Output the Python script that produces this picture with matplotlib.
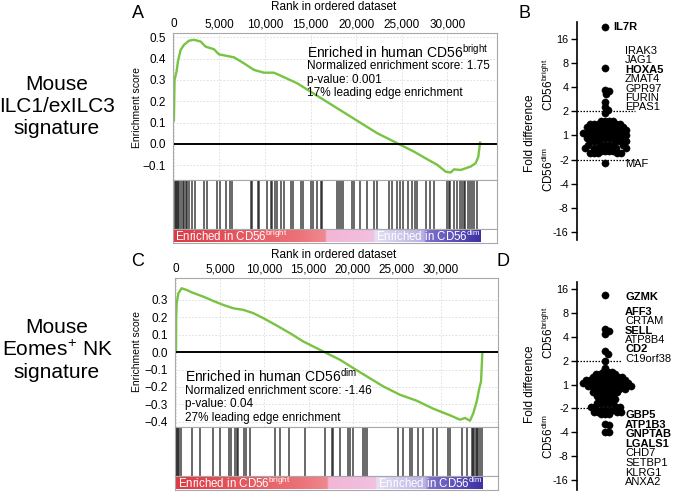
import numpy as np
import matplotlib
matplotlib.use("Agg")
import matplotlib.pyplot as plt
from matplotlib.colors import LinearSegmentedColormap

plt.rcParams['font.family'] = ['Liberation Sans', 'DejaVu Sans']
plt.rcParams['mathtext.default'] = 'regular'

# ---- data ----
rank_ticks = [0, 5000, 10000, 15000, 20000, 25000, 30000]

# panel A: running enrichment score, ILC1/exILC3 signature
rank_a = [0, 70, 290, 440, 730, 1100, 1650, 2200, 2930, 3480, 4390, 4940, 6590, 7680,
          8780, 9880, 10980, 12070, 13540, 15000, 16460, 17930, 19390, 20850, 22320,
          23780, 24880, 26340, 27800, 28900, 29820, 30370, 30730, 31460, 32020, 32560,
          33110, 33400, 33590]
es_a = [0.11, 0.30, 0.34, 0.386, 0.44, 0.464, 0.484, 0.488, 0.48, 0.456, 0.444, 0.42,
        0.406, 0.378, 0.347, 0.334, 0.334, 0.313, 0.284, 0.245, 0.206, 0.167, 0.128,
        0.089, 0.05, 0.019, -0.005, -0.036, -0.072, -0.098, -0.13, -0.134, -0.119,
        -0.122, -0.114, -0.106, -0.09, -0.06, 0.006]
hits_a = [110, 220, 330, 470, 580, 770, 950, 1130, 1280, 1420, 1680, 1930, 2300, 3320,
          3610, 4780, 5070, 5690, 6170, 6420, 8430, 8610, 9230, 9380, 10260, 10620,
          10800, 11060, 11350, 11720, 12080, 12810, 13100, 13900, 14200, 15000, 15290,
          15730, 16090, 16280, 17920, 18100, 18360, 18580, 19560, 19740, 20470, 21200,
          21930, 22230, 23580, 23940, 24490, 24850, 25150, 25660, 26130, 26500, 26680,
          27700, 28140, 28500, 29960, 30150, 30330, 30690, 31060, 31350, 31610, 31790,
          31970, 32230, 32520, 32700, 32920, 33210]

# panel C: running enrichment score, Eomes+ NK signature
rank_c = [0, 20, 75, 265, 640, 1210, 1770, 2340, 3090, 4230, 5360, 6490, 7620, 8750,
          9890, 11400, 12900, 14420, 15920, 17060, 18570, 20080, 21590, 23470, 25360,
          27250, 29130, 31020, 32150, 32720, 33280, 33660, 34040, 34340, 34530, 34680]
es_c = [0, 0.195, 0.28, 0.338, 0.367, 0.357, 0.344, 0.333, 0.319, 0.294, 0.271, 0.252,
        0.243, 0.224, 0.195, 0.153, 0.109, 0.061, 0.023, -0.006, -0.044, -0.092, -0.139,
        -0.197, -0.245, -0.279, -0.325, -0.363, -0.388, -0.378, -0.394, -0.35, -0.283,
        -0.206, -0.168, 0]
hits_c = [0, 150, 260, 380, 530, 1770, 2720, 4230, 4980, 6040, 6190, 6680, 6870, 7060,
          7700, 7920, 8380, 11210, 11770, 12830, 14600, 16870, 17620, 17810, 18570, 19510,
          19700, 20080, 21210, 21400, 21580, 25170, 25740, 26490, 26680, 27430, 28000,
          29130, 29510, 30830, 31020, 32340, 32910, 33470, 33580, 33740, 33960, 34110,
          34230, 34420, 34600]

# panels B / D: fold difference (CD56bright vs CD56dim) per gene
fold_b = [22.8, 6.9, 3.7, 3.6, 3.3, 2.6, 2.25, 2.07, 1.92,
          1.52, 1.52, 1.52, 1.52,
          1.40, 1.40, 1.40, 1.40, 1.40,
          1.28, 1.28, 1.28, 1.28, 1.28, 1.28,
          1.18, 1.18, 1.18, 1.18, 1.18, 1.18,
          1.08, 1.08, 1.08, 1.08, 1.08, 1.08, 1.08,
          1.0, 1.0, 1.0, 1.0, 1.0, 1.0,
          -1.08, -1.08, -1.08, -1.08, -1.08, -1.08,
          -1.18, -1.18, -1.18, -1.18, -1.18, -1.18,
          -1.30, -1.30, -1.30, -1.30, -1.30, -1.30,
          -1.42, -1.42, -1.42, -1.42, -1.42,
          -1.55, -1.55, -1.55, -1.55,
          -1.66, -1.66, -1.66, -1.66, -1.66,
          -2.2]
fold_d = [13.5, 4.96, 4.72, 4.35, 2.68, 2.43, 2.0,
          1.61,
          1.46, 1.46, 1.46,
          1.34, 1.34, 1.34,
          1.23, 1.23, 1.23, 1.23, 1.23,
          1.13, 1.13, 1.13, 1.13, 1.13, 1.13,
          1.04, 1.04, 1.04, 1.04, 1.04, 1.04, 1.04,
          -1.04, -1.04, -1.04, -1.04, -1.04, -1.04, -1.04,
          -1.13, -1.13, -1.13, -1.13, -1.13, -1.13,
          -1.25, -1.25, -1.25, -1.25, -1.25, -1.25,
          -1.39, -1.39, -1.39, -1.39, -1.39,
          -1.54, -1.54, -1.54, -1.54, -1.54,
          -1.72, -1.72, -1.72, -1.72, -1.72,
          -1.89, -1.89, -1.89, -1.89,
          -2.07, -2.07, -2.07, -2.07,
          -2.22, -2.22, -2.22, -2.22,
          -2.38, -2.38, -2.38,
          -3.1, -3.2, -3.9, -4.0]

fold_ticks = [-16, -8, -4, -2, 1, 2, 4, 8, 16]

genes_b_top = ['IRAK3', 'JAG1', 'HOXA5', 'ZMAT4', 'GPR97', 'FURIN', 'EPAS1']
genes_d_top = ['AFF3', 'CRTAM', 'SELL', 'ATP8B4', 'CD2', 'C19orf38']
genes_d_bot = ['GBP5', 'ATP1B3', 'GNPTAB', 'LGALS1', 'CHD7', 'SETBP1', 'KLRG1', 'ANXA2']
bold_genes = {'IL7R', 'HOXA5', 'GZMK', 'AFF3', 'SELL', 'CD2', 'GBP5', 'ATP1B3',
              'GNPTAB', 'LGALS1'}

GREEN = '#78c341'
FRAME = '#a8a8a8'

W, H = 675, 494
fig = plt.figure(figsize=(6.75, 4.94), dpi=100)


def px_axes(l, t, r, b):
    return fig.add_axes([l / W, 1 - b / H, (r - l) / W, (b - t) / H])


def ftext(x, y, s, **kw):
    return fig.text(x / W, 1 - y / H, s, **kw)


bar_cmap = LinearSegmentedColormap.from_list('bar', [
    (0.0, '#de3a44'), (0.40, '#ec7177'), (0.493, '#f08890'), (0.497, '#f3b6d6'),
    (0.65, '#f1c0e0'), (0.656, '#e4e0f4'), (0.815, '#b8b0e4'), (0.823, '#7e72cc'),
    (1.0, '#3d31a6')])


def gsea_panel(l, t, r, b, b2, b3, ranks, es, hits, xlim, ylim, yticks):
    ax = px_axes(l, t, r, b)
    ax.plot(ranks, es, color=GREEN, lw=1.7)
    ax.axhline(0, color='k', lw=1.4)
    ax.set_xlim(xlim)
    ax.set_ylim(ylim)
    ax.xaxis.tick_top()
    ax.set_xticks(rank_ticks)
    ax.set_xticklabels([f'{v:,}' for v in rank_ticks], fontsize=8.5)
    ax.set_yticks(yticks)
    ax.set_yticklabels([f'{v:.1f}'.replace('-', '\u2212') for v in yticks], fontsize=8.5)
    ax.tick_params(axis='x', length=0, pad=2)
    ax.tick_params(axis='y', length=0, pad=5)
    ax.grid(color='#dcdcdc', lw=0.6, ls=(0, (2, 2)))
    for s in ax.spines.values():
        s.set_color(FRAME)

    bc = px_axes(l, b, r, b2)
    bc.vlines(hits, 0, 1, color='#111111', lw=1.1, alpha=0.8)
    bc.set_xlim(xlim)
    bc.set_ylim(0, 1)
    bc.set_xticks([])
    bc.set_yticks([])
    for s in bc.spines.values():
        s.set_color(FRAME)

    cb = px_axes(l, b2, r, b3)
    end = ranks[-1]
    cb.imshow(np.linspace(0, 1, 256)[None, :], cmap=bar_cmap, aspect='auto',
              extent=[0, end, 0.1, 1])
    cb.set_xlim(xlim)
    cb.set_ylim(0, 1)
    cb.set_xticks([])
    cb.set_yticks([])
    for s in cb.spines.values():
        s.set_color(FRAME)
    cb.text(end * 0.005, 0.5, 'Enriched in CD56$^{bright}$', color='white',
            fontsize=8.3, va='center')
    cb.text(end * 0.66, 0.5, 'Enriched in CD56$^{dim}$', color='white',
            fontsize=8.3, va='center')
    return ax


def to_level(f):
    f = np.asarray(f, dtype=float)
    return np.sign(f) * np.log2(np.abs(f))


def swarm(ys, d):
    cands = [0.0]
    for k in range(1, 120):
        cands += [k * 0.5, -k * 0.5]
    placed = []
    xs = []
    for y in ys:
        for c in cands:
            if all((c - px) ** 2 + (y - py) ** 2 >= d * d for px, py in placed):
                break
        placed.append((c, y))
        xs.append(c)
    return np.array(xs)


def scatter_panel(t, b, ylim, ppl, folds, dash_len):
    ax = px_axes(577, t, 675, b)
    lv = to_level(folds)
    xs = swarm(lv * ppl, 4.0)
    ax.plot(28 + xs, lv, 'o', ms=5.2, color='k', mec='k', mew=0.3, clip_on=False)
    ax.hlines([1, -1], 0, dash_len, colors='k', linestyles=(0, (1.2, 1.2)), lw=0.9)
    ax.set_xlim(0, 98)
    ax.set_ylim(ylim)
    ax.set_yticks(to_level(fold_ticks))
    ax.set_yticklabels([str(v) for v in fold_ticks])
    ax.tick_params(axis='y', length=4, width=1, labelsize=7.8, pad=2)
    ax.set_xticks([])
    for s in ['top', 'right', 'bottom']:
        ax.spines[s].set_visible(False)
    ax.spines['left'].set_linewidth(1.2)
    ax.patch.set_alpha(0)
    return ax


# ---- panel A ----
gsea_panel(173, 33, 497, 180, 229, 243, rank_a, es_a, hits_a,
           (-100, 35450), (-0.169, 0.52), [-0.1, 0.0, 0.1, 0.2, 0.3, 0.4, 0.5])
ftext(334, 7, 'Rank in ordered dataset', fontsize=8.5, ha='center', va='center')
ftext(137, 107, 'Enrichment score', fontsize=7.5, rotation=90, ha='center', va='center')
ftext(307, 52, 'Enriched in human CD56$^{bright}$', fontsize=10, va='center')
ftext(307, 66, 'Normalized enrichment score: 1.75', fontsize=8.5, va='center')
ftext(307, 80, 'p-value: 0.001', fontsize=8.5, va='center')
ftext(307, 93, '17% leading edge enrichment', fontsize=8.5, va='center')

# ---- panel C ----
gsea_panel(175, 278, 498, 427, 476, 490, rank_c, es_c, hits_c,
           (-113, 36450), (-0.43, 0.426), [-0.4, -0.3, -0.2, -0.1, 0.0, 0.1, 0.2, 0.3])
ftext(334, 255, 'Rank in ordered dataset', fontsize=8.5, ha='center', va='center')
ftext(137, 352, 'Enrichment score', fontsize=7.5, rotation=90, ha='center', va='center')
ftext(185, 376, 'Enriched in human CD56$^{dim}$', fontsize=10, va='center')
ftext(185, 391, 'Normalized enrichment score: -1.46', fontsize=8.5, va='center')
ftext(185, 404, 'p-value: 0.04', fontsize=8.5, va='center')
ftext(185, 418, '27% leading edge enrichment', fontsize=8.5, va='center')

# ---- panel B ----
scatter_panel(22, 240, (-4.34, 4.71), 24.1, fold_b, 58)
ftext(613, 27, 'IL7R', fontsize=8, fontweight='bold', va='center')
for i, g in enumerate(genes_b_top):
    ftext(625, 51 + 9.4 * i, g, fontsize=8, va='center',
          fontweight='bold' if g in bold_genes else 'normal')
ftext(625, 164, 'MAF', fontsize=8, va='center')
ftext(530, 133, 'Fold difference', fontsize=8.5, rotation=90, ha='center', va='center')
ftext(548, 85, 'CD56$^{bright}$', fontsize=8.5, rotation=90, ha='center', va='center')
ftext(548, 170, 'CD56$^{dim}$', fontsize=8.5, rotation=90, ha='center', va='center')

# ---- panel D ----
scatter_panel(282, 490, (-4.41, 4.29), 23.9, fold_d, 45)
ftext(625, 297, 'GZMK', fontsize=8, fontweight='bold', va='center')
for i, g in enumerate(genes_d_top):
    ftext(625, 312 + 9.3 * i, g, fontsize=8, va='center',
          fontweight='bold' if g in bold_genes else 'normal')
for i, g in enumerate(genes_d_bot):
    ftext(625, 415 + 9.6 * i, g, fontsize=8, va='center',
          fontweight='bold' if g in bold_genes else 'normal')
ftext(530, 384, 'Fold difference', fontsize=8.5, rotation=90, ha='center', va='center')
ftext(548, 333, 'CD56$^{bright}$', fontsize=8.5, rotation=90, ha='center', va='center')
ftext(548, 437, 'CD56$^{dim}$', fontsize=8.5, rotation=90, ha='center', va='center')

# ---- row titles and panel letters ----
ftext(57, 107, 'Mouse\nILC1/exILC3\nsignature', fontsize=15, ha='center', va='center')
ftext(57, 350, 'Mouse\nEomes$^{+}$ NK\nsignature', fontsize=15, ha='center', va='center')
ftext(138, 13, 'A', fontsize=13, ha='center', va='center')
ftext(525, 13, 'B', fontsize=13, ha='center', va='center')
ftext(138, 261, 'C', fontsize=13, ha='center', va='center')
ftext(503, 262, 'D', fontsize=13, ha='center', va='center')

fig.savefig('out.png', dpi=100)
